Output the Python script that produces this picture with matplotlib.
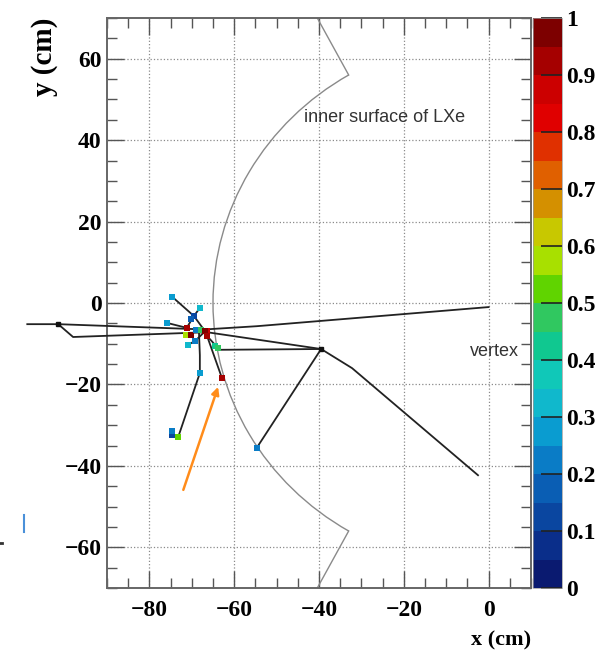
import matplotlib.pyplot as plt
import matplotlib.patches as mpatches
import numpy as np
from matplotlib.colors import ListedColormap, BoundaryNorm
from matplotlib.cm import ScalarMappable
from matplotlib.lines import Line2D
from matplotlib.ticker import MultipleLocator

plt.rcParams['font.family'] = ['Liberation Serif', 'DejaVu Serif']
plt.rcParams['font.weight'] = 'bold'

# palette bands, 0 -> 1 in 0.05 steps
palette = ['#0a1a70', '#0a2e8a', '#0a46a0', '#0a5eb4', '#0a7cc6',
           '#0a9cd0', '#10b8cc', '#10c8b8', '#10c890', '#30c860',
           '#60d400', '#a8e000', '#c8c800', '#d49000', '#e06000',
           '#e03000', '#e00000', '#cc0000', '#a50000', '#7d0000']
cbar_ticks = [0, 0.1, 0.2, 0.3, 0.4, 0.5, 0.6, 0.7, 0.8, 0.9, 1]
cbar_labels = ['0', '0.1', '0.2', '0.3', '0.4', '0.5', '0.6', '0.7', '0.8', '0.9', '1']

# LXe inner face: circle of radius 65 cm plus the two corner segments
lxe_r = 65
lxe_top_x = [-33, -40.4]
lxe_top_y = [56, 70]
lxe_bot_x = [-33, -40.4]
lxe_bot_y = [-56, -70]

# tracks (cm)
beam_x = [-108.8, -101.5, -67.0, -54.7, 0.0]
beam_y = [-5.2, -5.2, -6.5, -5.7, -1.0]
beam2_x = [-101.5, -98.0, -66.9]
beam2_y = [-5.2, -8.35, -7.2]
gamma_x = [-66.9, -39.5]
gamma_y = [-7.1, -11.3]
flat_x = [-64.1, -39.5]
flat_y = [-11.5, -11.3]
out_x = [-39.5, -32.2, -2.5]
out_y = [-11.3, -16.0, -42.3]
back_x = [-39.5, -54.7]
back_y = [-11.3, -35.6]
red_x = [-66.4, -62.9]
red_y = [-8.1, -18.4]
down_x = [-68.3, -68.1, -68.1, -73.2]
down_y = [-7.4, -12.8, -17.2, -32.9]
up_x = [-74.6, -69.5, -66.9]
up_y = [1.5, -3.2, -6.9]
up2_x = [-68.1, -69.5, -71.2]
up2_y = [-1.2, -3.2, -6.1]
low_x = [-70.9, -69.2, -66.9]
low_y = [-10.3, -9.3, -7.0]
side_x = [-66.4, -63.8]
side_y = [-8.1, -11.1]
left_x = [-75.8, -71.2]
left_y = [-4.9, -6.1]

# hits with their fraction value
hit_x = [-74.6, -68.1, -69.5, -70.2, -75.8, -71.2, -71.4, -70.2, -69.1, -67.9,
         -66.4, -66.9, -66.4, -70.9, -69.2, -64.5, -63.8, -62.9, -68.1, -73.2,
         -74.6, -74.6, -54.7]
hit_y = [1.5, -1.2, -3.2, -4.0, -4.9, -6.1, -7.9, -7.9, -6.6, -6.6,
         -6.9, -6.9, -8.1, -10.3, -9.3, -10.6, -11.1, -18.4, -17.2, -32.9,
         -32.4, -31.4, -35.6]
hit_val = [0.3, 0.33, 0.12, 0.17, 0.28, 0.93, 0.57, 0.96, 0.22, 0.47,
           0.87, 0.97, 0.92, 0.32, 0.22, 0.4, 0.47, 0.9, 0.3, 0.53,
           0.12, 0.22, 0.22]

fig = plt.figure(figsize=(5.98, 6.6), dpi=100)
ax = fig.add_axes([107 / 598, 72 / 660, 424 / 598, 570 / 660])
cax = fig.add_axes([533 / 598, 72 / 660, 29 / 598, 570 / 660])

cmap = ListedColormap(palette)
norm = BoundaryNorm(np.linspace(0, 1, len(palette) + 1), cmap.N)

ax.set_xlim(-90, 10)
ax.set_ylim(-70, 70)
ax.xaxis.set_major_locator(MultipleLocator(20))
ax.xaxis.set_minor_locator(MultipleLocator(5))
ax.yaxis.set_major_locator(MultipleLocator(20))
ax.yaxis.set_minor_locator(MultipleLocator(5))
ax.grid(True, which='major', linestyle=':', color='#8a8a8a', lw=0.9)
ax.tick_params(which='both', direction='in', top=True, right=True,
               color='#555555', width=1.0, labelsize=17)
ax.tick_params(which='major', length=12)
ax.tick_params(which='minor', length=7)
ax.tick_params(axis='x', pad=9)
ax.tick_params(axis='y', pad=4)
for s in ax.spines.values():
    s.set_color('#666666')
    s.set_linewidth(1.4)

# LXe surface
ax.add_patch(mpatches.Arc((0, 0), 2 * lxe_r, 2 * lxe_r, theta1=120.5, theta2=239.5,
                          color='#8a8a8a', lw=1.0))
ax.plot(lxe_top_x, lxe_top_y, color='#8a8a8a', lw=1.0)
ax.plot(lxe_bot_x, lxe_bot_y, color='#8a8a8a', lw=1.0)

tracks = [(beam_x, beam_y), (beam2_x, beam2_y), (gamma_x, gamma_y), (flat_x, flat_y),
          (out_x, out_y), (back_x, back_y), (red_x, red_y), (down_x, down_y),
          (up_x, up_y), (up2_x, up2_y), (low_x, low_y), (side_x, side_y),
          (left_x, left_y)]
for tx, ty in tracks:
    ax.plot(tx, ty, color='#222222', lw=1.3, clip_on=False, zorder=3)
ax.plot([beam_x[1]], [beam_y[1]], 's', color='#111111', ms=2.5, clip_on=False, zorder=4)
ax.plot([gamma_x[1]], [gamma_y[1]], 's', color='#111111', ms=3, zorder=4)

ax.scatter(hit_x, hit_y, c=hit_val, cmap=cmap, norm=norm, marker='s', s=20,
           linewidths=0, zorder=5)

ax.annotate('', xy=(-63.8, -20.6), xytext=(-72.0, -45.9),
            arrowprops=dict(arrowstyle='-|>', color='#ff8c1a', lw=1.8,
                            mutation_scale=11, shrinkA=0, shrinkB=0))

ax.text(-43.5, 45.5, 'inner surface of LXe', fontsize=13, color='#333333',
        fontweight='normal', family=['Liberation Sans', 'DejaVu Sans'],
        va='center', ha='left')
ax.text(-4.5, -12, 'vertex', fontsize=13, color='#333333',
        fontweight='normal', family=['Liberation Sans', 'DejaVu Sans'],
        va='center', ha='left')

cb = fig.colorbar(ScalarMappable(norm=norm, cmap=cmap), cax=cax, ticks=cbar_ticks)
cb.set_ticklabels(cbar_labels)
cb.outline.set_linewidth(0.5)
cb.outline.set_edgecolor('#999999')
cax.tick_params(direction='in', length=15, width=1.2, color='#222222',
                labelsize=17, pad=3)
cax.minorticks_off()

fig.text(45 / 598, 1 - 18 / 660, 'y (cm)', rotation=90, ha='center', va='top',
         fontsize=21, fontweight='bold')
fig.text(531 / 598, 1 - 650 / 660, 'x (cm)', ha='right', va='bottom',
         fontsize=16, fontweight='bold')

# small stray marks at the left margin
fig.add_artist(Line2D([24 / 598, 24 / 598], [1 - 515 / 660, 1 - 532 / 660],
                      color='#4a90d9', lw=1.5))
fig.add_artist(Line2D([0, 2 / 598], [1 - 543 / 660, 1 - 543 / 660],
                      color='#333333', lw=2))

fig.savefig('out.png', dpi=100)
